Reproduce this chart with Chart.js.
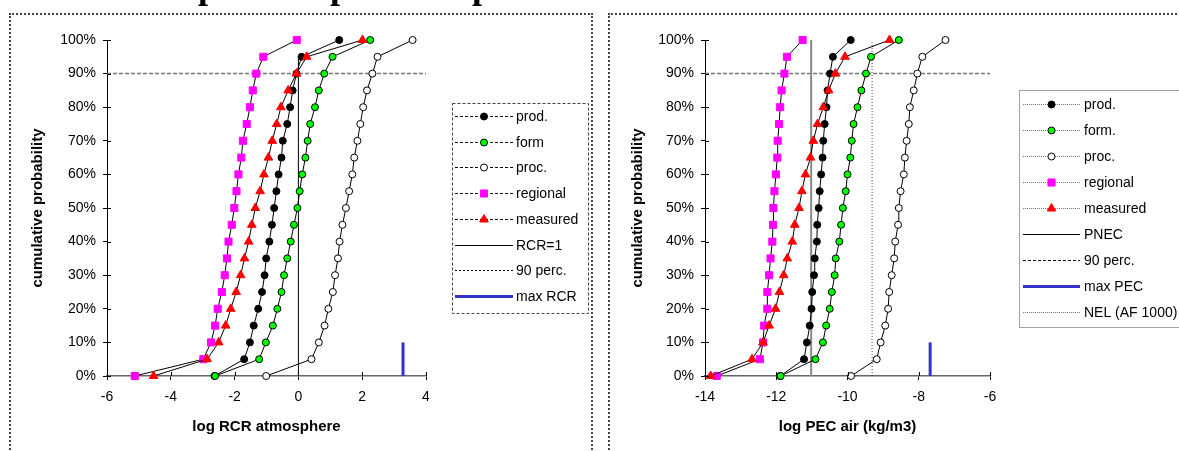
<!DOCTYPE html>
<html>
<head>
<meta charset="utf-8">
<script src="https://cdn.jsdelivr.net/npm/chart.js@4.4.1/dist/chart.umd.min.js"></script>
<style>
  body { margin: 0; background: #fff; width: 1179px; height: 451px; overflow: hidden; position: relative; }
  .frame { position: absolute; top: 13px; height: 500px; border: 2px dotted #444; }
  #f1 { left: 9px; width: 580px; }
  #f2 { left: 608px; width: 620px; }
  canvas { position: absolute; top: 0; }
  #c1 { left: 0; }
  #c2 { left: 600px; }
</style>
</head>
<body>
<div class="frame" id="f1"></div>
<div class="frame" id="f2"></div>
<canvas id="c1" width="600" height="451"></canvas>
<canvas id="c2" width="579" height="451"></canvas>
<script>
// cumulative probability levels (0% .. 100%)
const probLevels = [0, 0.05, 0.10, 0.15, 0.20, 0.25, 0.30, 0.35, 0.40, 0.45, 0.50,
  0.55, 0.60, 0.65, 0.70, 0.75, 0.80, 0.85, 0.90, 0.95, 1.00];

// left: log RCR atmosphere
const rcrLabels = ['prod.', 'form', 'proc.', 'regional', 'measured', 'RCR=1', '90 perc.', 'max RCR'];
const rcrProd = [-2.63, -1.70, -1.52, -1.40, -1.26, -1.14, -1.06, -1.01, -0.91, -0.83, -0.76,
  -0.69, -0.62, -0.53, -0.49, -0.35, -0.26, -0.18, -0.06, 0.10, 1.28];
const rcrForm = [-2.61, -1.23, -1.02, -0.80, -0.66, -0.53, -0.45, -0.35, -0.24, -0.14, -0.03,
  0.04, 0.12, 0.22, 0.29, 0.37, 0.52, 0.64, 0.81, 1.07, 2.25];
const rcrProc = [-1.01, 0.41, 0.64, 0.82, 0.94, 1.08, 1.15, 1.24, 1.29, 1.38, 1.49,
  1.59, 1.69, 1.75, 1.85, 1.94, 2.03, 2.15, 2.32, 2.48, 3.58];
const rcrRegional = [-5.13, -2.98, -2.74, -2.61, -2.53, -2.40, -2.31, -2.24, -2.19, -2.09, -2.01,
  -1.94, -1.88, -1.79, -1.74, -1.62, -1.52, -1.43, -1.32, -1.10, -0.05];
const rcrMeasured = [-4.54, -2.86, -2.50, -2.28, -2.12, -1.95, -1.81, -1.69, -1.56, -1.46, -1.35,
  -1.20, -1.08, -0.94, -0.82, -0.68, -0.55, -0.32, -0.06, 0.26, 2.01];
const rcrOne = 0;          // log(RCR=1)
const rcrOneTop = 0.95;
const maxRcr = 3.28;
const rcrTicks = [-6, 4];

// right: log PEC air (kg/m3)
const pecLabels = ['prod.', 'form.', 'proc.', 'regional', 'measured', 'PNEC', '90 perc.', 'max PEC', 'NEL (AF 1000)'];
const pecProd = [-11.89, -11.22, -11.14, -11.06, -11.01, -10.99, -10.94, -10.92, -10.86, -10.85, -10.81,
  -10.78, -10.74, -10.70, -10.68, -10.64, -10.59, -10.56, -10.49, -10.41, -9.91];
const pecForm = [-11.88, -10.90, -10.69, -10.60, -10.50, -10.44, -10.36, -10.33, -10.23, -10.18, -10.13,
  -10.05, -10.00, -9.92, -9.88, -9.83, -9.72, -9.61, -9.48, -9.34, -8.56];
const pecProc = [-9.90, -9.18, -9.07, -8.94, -8.86, -8.83, -8.76, -8.69, -8.66, -8.58, -8.56,
  -8.51, -8.42, -8.39, -8.34, -8.28, -8.25, -8.14, -8.04, -7.90, -7.25];
const pecRegional = [-13.67, -12.46, -12.37, -12.34, -12.25, -12.25, -12.20, -12.16, -12.11, -12.09, -12.08,
  -12.05, -12.01, -11.97, -11.96, -11.92, -11.89, -11.85, -11.77, -11.70, -11.26];
const pecMeasured = [-13.84, -12.68, -12.37, -12.20, -12.02, -11.91, -11.79, -11.69, -11.55, -11.48, -11.36,
  -11.28, -11.18, -11.04, -10.96, -10.84, -10.68, -10.53, -10.34, -10.07, -8.82];
const pnec = -11.02;
const nel = -9.31;
const maxPec = -7.68;
const pecTicks = [-14, -6];

const perc90 = 0.9;
const maxMarkTop = 0.1;

const FONT = '"Liberation Sans", Arial, sans-serif';

function pts(xs) {
  return xs.map((x, i) => ({x: x, y: probLevels[i]}));
}
function vline(x, top) {
  return [{x: x, y: 0}, {x: x, y: top}];
}

function seriesSets(labels, vals, lDash, lColor) {
  const base = {showLine: true, borderColor: '#000', borderWidth: 1, clip: false,
    pointBorderWidth: 1, legendDash: lDash, legendColor: lColor};
  return [
    Object.assign({}, base, {label: labels[0], data: pts(vals[0]), pointStyle: 'circle', pointRadius: 3.5,
      pointBackgroundColor: '#000', pointBorderColor: '#000', order: 5}),
    Object.assign({}, base, {label: labels[1], data: pts(vals[1]), pointStyle: 'circle', pointRadius: 3.5,
      pointBackgroundColor: '#00ff00', pointBorderColor: '#000', order: 4}),
    Object.assign({}, base, {label: labels[2], data: pts(vals[2]), pointStyle: 'circle', pointRadius: 3.5,
      pointBackgroundColor: '#fff', pointBorderColor: '#000', order: 3}),
    Object.assign({}, base, {label: labels[3], data: pts(vals[3]), pointStyle: 'rect', pointRadius: 5,
      pointBackgroundColor: '#ff00ff', pointBorderColor: '#ff00ff', order: 2}),
    Object.assign({}, base, {label: labels[4], data: pts(vals[4]), pointStyle: 'triangle', pointRadius: 5,
      pointBackgroundColor: '#ff0000', pointBorderColor: '#ff0000', order: 1})
  ];
}

const boxLegend = {
  id: 'boxLegend',
  afterDraw(chart, args, o) {
    const ctx = chart.ctx;
    ctx.save();
    ctx.strokeStyle = '#444';
    ctx.lineWidth = 1;
    ctx.setLineDash(o.boxDash);
    ctx.strokeRect(o.x + 0.5, o.y + 0.5, o.w, o.h);
    ctx.font = '14px ' + FONT;
    ctx.textBaseline = 'middle';
    chart.data.datasets.forEach((ds, i) => {
      const y = Math.round(o.top + i * o.step) + 0.5;
      ctx.setLineDash(ds.legendDash || []);
      ctx.strokeStyle = ds.legendColor || ds.borderColor;
      ctx.lineWidth = ds.legendWidth || ds.borderWidth;
      ctx.beginPath();
      ctx.moveTo(o.lx0, y);
      ctx.lineTo(o.lx1, y);
      ctx.stroke();
      ctx.setLineDash([]);
      if (ds.pointRadius > 0) {
        ctx.fillStyle = ds.pointBackgroundColor;
        ctx.strokeStyle = ds.pointBorderColor;
        ctx.lineWidth = 1;
        Chart.helpers.drawPoint(ctx, {pointStyle: ds.pointStyle, radius: ds.pointRadius, rotation: 0, borderWidth: 1},
          (o.lx0 + o.lx1) / 2, y);
      }
      ctx.fillStyle = '#000';
      ctx.fillText(ds.label, o.tx, y + 1);
    });
    ctx.restore();
  }
};

const innerTicks = {
  id: 'innerTicks',
  afterDraw(chart) {
    const {ctx, chartArea, scales} = chart;
    ctx.save();
    ctx.strokeStyle = '#000';
    ctx.lineWidth = 1;
    ctx.beginPath();
    scales.x.ticks.forEach(t => {
      const px = Math.round(scales.x.getPixelForValue(t.value)) + 0.5;
      ctx.moveTo(px, chartArea.bottom);
      ctx.lineTo(px, chartArea.bottom - 4);
    });
    scales.y.ticks.forEach(t => {
      const py = Math.round(scales.y.getPixelForValue(t.value)) + 0.5;
      ctx.moveTo(chartArea.left, py);
      ctx.lineTo(chartArea.left + 4, py);
    });
    ctx.stroke();
    ctx.restore();
  }
};

// bottom of the cut-off heading above the frames
const headingStub = {
  id: 'headingStub',
  afterDraw(chart) {
    const ctx = chart.ctx;
    ctx.save();
    ctx.font = 'bold 36px "Liberation Serif", "Times New Roman", serif';
    ctx.fillStyle = '#000';
    ctx.textBaseline = 'alphabetic';
    [198, 330, 472].forEach(x => ctx.fillText('p', x, -2.5));
    ctx.restore();
  }
};

function makeChart(id, datasets, xRange, xTitle, yAxisW, padRight, legendOpts, extra) {
  return new Chart(id, {
    type: 'scatter',
    data: {datasets: datasets},
    options: {
      responsive: false,
      animation: false,
      layout: {padding: {left: 0, right: padRight, top: 40, bottom: 0}},
      plugins: {legend: {display: false}, tooltip: {enabled: false}, boxLegend: legendOpts},
      scales: {
        x: {
          type: 'linear', min: xRange[0], max: xRange[1],
          ticks: {stepSize: 2, color: '#000', font: {size: 14, family: FONT}, padding: 9, maxRotation: 0},
          grid: {drawOnChartArea: false, tickLength: 4, color: '#000'},
          border: {display: true, color: '#666', width: 1.5, dash: [4, 2]},
          title: {display: true, text: xTitle, color: '#000', font: {size: 15, weight: 'bold', family: FONT},
            padding: {top: 0, bottom: 15}},
          afterFit(s) { s.height = 75; }
        },
        y: {
          type: 'linear', min: 0, max: 1,
          ticks: {stepSize: 0.1, color: '#000', font: {size: 14, family: FONT}, padding: 7,
            callback: v => Math.round(v * 100) + '%'},
          grid: {drawOnChartArea: false, tickLength: 4, color: '#000'},
          border: {display: true, color: '#000', width: 1, dash: [3, 2]},
          title: {display: true, text: 'cumulative probability', color: '#000',
            font: {size: 15, weight: 'bold', family: FONT}, padding: {top: 29, bottom: 0}},
          afterFit(s) { s.width = yAxisW; }
        }
      }
    },
    plugins: [innerTicks, boxLegend].concat(extra)
  });
}

// left chart
const leftSets = seriesSets(rcrLabels, [rcrProd, rcrForm, rcrProc, rcrRegional, rcrMeasured], [3, 2], '#000').concat([
  {label: rcrLabels[5], data: vline(rcrOne, rcrOneTop), showLine: true, pointRadius: 0, borderColor: '#000',
    borderWidth: 1, clip: false, order: 10},
  {label: rcrLabels[6], data: [{x: rcrTicks[0], y: perc90}, {x: rcrTicks[1], y: perc90}], showLine: true, pointRadius: 0,
    borderColor: '#777', borderWidth: 1.5, borderDash: [4, 2], legendDash: [2, 2], legendColor: '#000', legendWidth: 1,
    clip: false, order: 10},
  {label: rcrLabels[7], data: vline(maxRcr, maxMarkTop), showLine: true, pointRadius: 0, borderColor: '#3333cc',
    borderWidth: 3, clip: false, order: 10}
]);
makeChart('c1', leftSets, rcrTicks, 'log RCR atmosphere', 107, 174,
  {x: 452, y: 103, w: 136, h: 210, boxDash: [3, 2], top: 116, step: 25.7, lx0: 455, lx1: 513, tx: 516},
  [headingStub]);

// right chart
const rightSets = seriesSets(pecLabels, [pecProd, pecForm, pecProc, pecRegional, pecMeasured], [1, 1], '#777').concat([
  {label: pecLabels[5], data: vline(pnec, 1), showLine: true, pointRadius: 0, borderColor: '#888',
    borderWidth: 2, legendColor: '#000', legendWidth: 1, clip: false, order: 10},
  {label: pecLabels[6], data: [{x: pecTicks[0], y: perc90}, {x: pecTicks[1], y: perc90}], showLine: true, pointRadius: 0,
    borderColor: '#777', borderWidth: 1.5, borderDash: [4, 2], legendDash: [3, 2], legendColor: '#000', legendWidth: 1,
    clip: false, order: 10},
  {label: pecLabels[7], data: vline(maxPec, maxMarkTop), showLine: true, pointRadius: 0, borderColor: '#3333cc',
    borderWidth: 3, clip: false, order: 10},
  {label: pecLabels[8], data: vline(nel, 1), showLine: true, pointRadius: 0, borderColor: '#444',
    borderWidth: 1, borderDash: [1, 2], legendDash: [1, 1], legendColor: '#777', clip: false, order: 10}
]);
makeChart('c2', rightSets, pecTicks, 'log PEC air (kg/m3)', 105, 189,
  {x: 419, y: 90, w: 220, h: 237, boxDash: [1, 1], top: 104, step: 26, lx0: 423, lx1: 480, tx: 484},
  []);
</script>
</body>
</html>
